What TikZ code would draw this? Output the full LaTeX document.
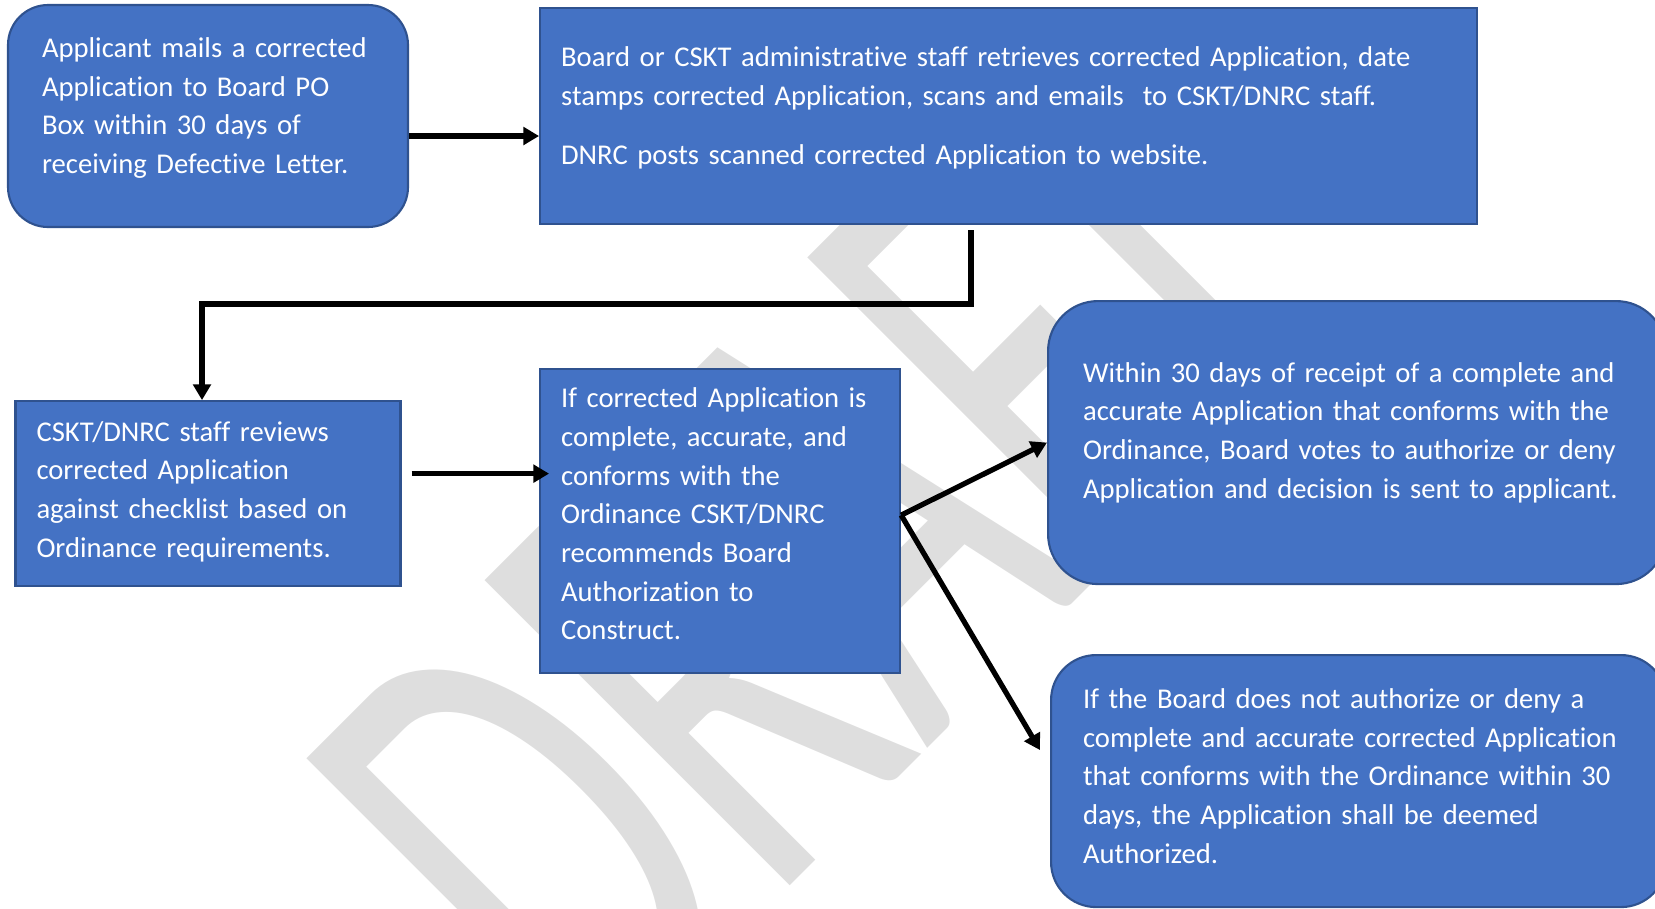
\documentclass[tikz,border=0pt]{standalone}
\usepackage{fontspec}
\setmainfont{Carlito}[Ligatures=NoCommon]
\usepackage{xcolor}
\usepackage{tikz}
\usetikzlibrary{arrows.meta, positioning, calc}

\definecolor{boxblue}{HTML}{4472C4}
\definecolor{boxedge}{HTML}{2F528F}
\definecolor{wmgray}{HTML}{DEDEDE}

\begin{document}
\begin{tikzpicture}[
  rbox/.style={draw=boxedge, fill=boxblue, line width=0.6pt, rounded corners=4mm, text=white, align=left, inner xsep=3.4mm, inner ysep=0pt, font=\fontsize{8.15}{11}\selectfont},
  sbox/.style={rbox, rounded corners=0pt, inner xsep=2.1mm},
  arr/.style={-{Triangle[length=4.5pt, width=5pt]}, line width=1.5pt},
  wm/.style={text=wmgray, font=\fontsize{116}{116}\selectfont, inner sep=0pt, rotate=45, yscale=1.65, anchor=north west}
]
  \useasboundingbox (0,0) rectangle (16.55,-9.08);
  % watermark behind everything
  \node[wm] (draft) at (2.86,-7.78) {DRAF\kern-0.045em T};

  \node[rbox, minimum width=4.00cm, minimum height=2.22cm, text width=3.32cm] (mail) at (2.08,-1.16)
    {Applicant mails a corrected\\Application to Board PO\\Box within 30 days of\\receiving Defective Letter.\par\vspace*{0.16cm}};
  \node[sbox, minimum width=9.37cm, minimum height=2.16cm, text width=8.95cm, right=1.30cm of mail] (retrieve)
    {Board or CSKT administrative staff retrieves corrected Application, date\\stamps corrected Application, scans and emails~ to CSKT/DNRC staff.\\[0.21cm]DNRC posts scanned corrected Application to website.\par\vspace*{0.16cm}};
  \node[sbox, minimum width=3.85cm, minimum height=1.85cm, text width=3.43cm, below=1.72cm of mail] (review)
    {CSKT/DNRC staff reviews\\corrected Application\\against checklist based on\\Ordinance requirements.\par\vspace*{0.04cm}};
  \node[sbox, minimum width=3.60cm, minimum height=3.04cm, text width=3.18cm, below=1.43cm of retrieve.south west, anchor=north west] (decide)
    {If corrected Application is\\complete, accurate, and\\conforms with the\\Ordinance CSKT/DNRC\\recommends Board\\Authorization to\\Construct.\par\vspace*{0.14cm}};
  \node[rbox, rounded corners=5mm, minimum width=6.18cm, minimum height=2.83cm, text width=5.48cm, anchor=north west, inner xsep=3.5mm] (vote) at (10.47,-3.00)
    {Within 30 days of receipt of a complete and\\accurate Application that conforms with the\\Ordinance, Board votes to authorize or deny\\Application and decision is sent to applicant.\par\vspace*{0.2cm}};
  \node[rbox, rounded corners=4.5mm, minimum width=6.15cm, minimum height=2.52cm, text width=5.51cm, anchor=north west, inner xsep=3.2mm] (deemed) at (10.50,-6.54)
    {If the Board does not authorize or deny a\\complete and accurate corrected Application\\that conforms with the Ordinance within 30\\days, the Application shall be deemed\\Authorized.\par\vspace*{0.1cm}};

  \coordinate (fork) at ([yshift=0.6mm]decide.east);

  \draw[arr] ([yshift=-2mm]mail.east) -- ([yshift=-2mm]retrieve.west);
  \draw[arr] ([xshift=-3.75mm, yshift=-0.5mm]retrieve.south) -- ++(0,-0.74) -| ([xshift=-0.6mm]review.north);
  \draw[arr] ([xshift=1mm, yshift=2mm]review.east) -- ([xshift=1mm, yshift=2mm]review.east -| decide.west);
  \draw[arr] (fork) -- (vote.west);
  \draw[arr] (fork) -- ([xshift=-1mm, yshift=3.1mm]deemed.west);
\end{tikzpicture}
\end{document}
